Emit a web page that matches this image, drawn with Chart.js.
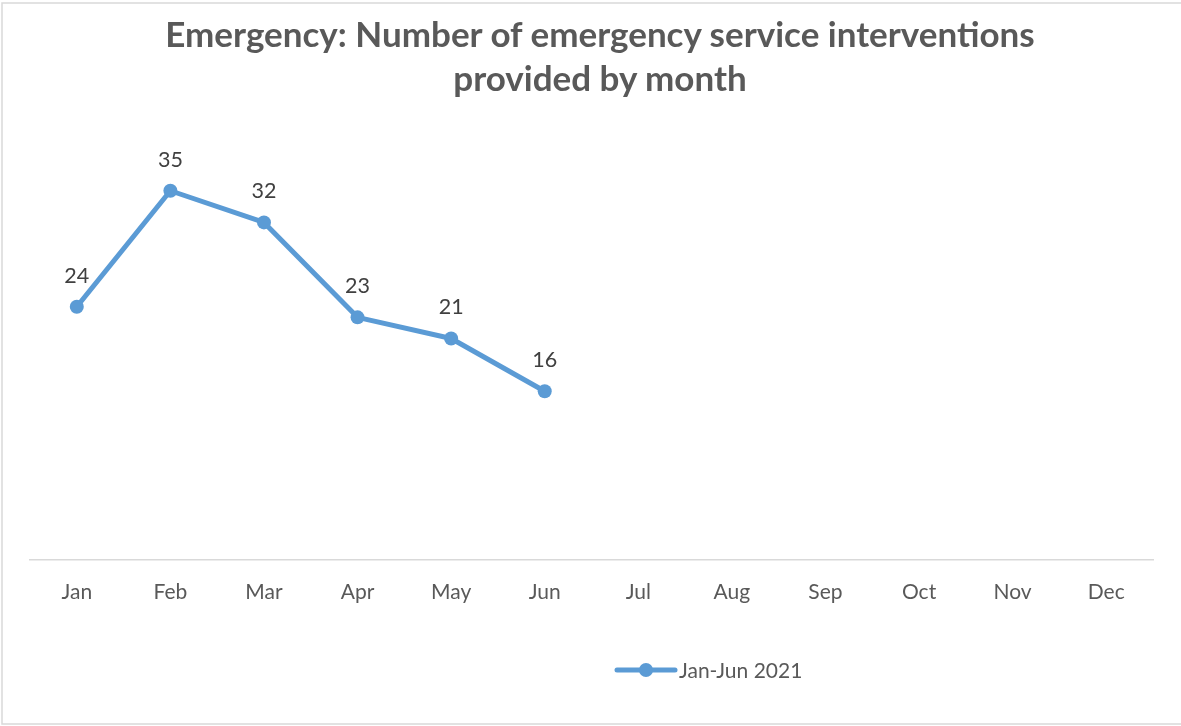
<!DOCTYPE html>
<html><head><meta charset="utf-8">
<script src="https://cdn.jsdelivr.net/npm/chart.js@4.4.0/dist/chart.umd.min.js"></script>
<style>
html,body{margin:0;padding:0;background:#fff;}
#wrap{position:relative;width:1181px;height:726px;overflow:hidden;}
#title{position:absolute;left:19px;width:1162px;top:11px;text-align:center;font-family:Lato,"Open Sans",sans-serif;font-weight:bold;font-size:35px;line-height:44px;color:#595959;white-space:nowrap;}
canvas{position:absolute;left:0;top:0;}
</style></head><body>
<div id="wrap"><canvas id="c" width="1181" height="726"></canvas><div id="title">Emergency: Number of emergency service interventions<br>provided by month</div></div>
<script>
const months = ['Jan','Feb','Mar','Apr','May','Jun','Jul','Aug','Sep','Oct','Nov','Dec'];
const values = [24, 35, 32, 23, 21, 16];
const seriesLabel = 'Jan-Jun 2021';
const lineColor = '#5B9BD5';
const FONT = 'Lato, "Open Sans", sans-serif';

const bgBorder = {
  id: 'bgBorder',
  beforeDraw(chart) {
    const ctx = chart.ctx;
    ctx.save();
    ctx.fillStyle = '#fff';
    ctx.fillRect(0, 0, chart.width, chart.height);
    ctx.strokeStyle = '#D9D9D9';
    ctx.lineWidth = 1.5;
    ctx.strokeRect(2, 3, chart.width + 10, chart.height - 5);
    ctx.restore();
  }
};

const dataLabels = {
  id: 'dataLabels',
  afterDatasetsDraw(chart) {
    const ctx = chart.ctx;
    const meta = chart.getDatasetMeta(0);
    const ds = chart.data.datasets[0];
    ctx.save();
    ctx.font = '21.5px ' + FONT;
    ctx.fillStyle = '#404040';
    ctx.textAlign = 'center';
    ctx.textBaseline = 'middle';
    meta.data.forEach((pt, i) => {
      ctx.fillText(String(ds.data[i]), pt.x, pt.y - 31);
    });
    ctx.restore();
  }
};

const customLegend = {
  id: 'customLegend',
  afterDraw(chart) {
    const ctx = chart.ctx;
    const ds = chart.data.datasets[0];
    const y = 670, x0 = 617, x1 = 675;
    ctx.save();
    ctx.strokeStyle = ds.borderColor;
    ctx.lineWidth = ds.borderWidth;
    ctx.lineCap = 'round';
    ctx.beginPath(); ctx.moveTo(x0, y); ctx.lineTo(x1, y); ctx.stroke();
    ctx.fillStyle = ds.pointBackgroundColor;
    ctx.beginPath(); ctx.arc((x0 + x1) / 2, y, ds.pointRadius, 0, Math.PI * 2); ctx.fill();
    ctx.font = '21px ' + FONT;
    ctx.fillStyle = '#595959';
    ctx.textAlign = 'left';
    ctx.textBaseline = 'middle';
    ctx.fillText(ds.label, 679, y + 1);
    ctx.restore();
  }
};

new Chart(document.getElementById('c'), {
  type: 'line',
  data: {
    labels: months,
    datasets: [{
      label: seriesLabel,
      data: values,
      borderColor: lineColor,
      backgroundColor: lineColor,
      pointBackgroundColor: lineColor,
      pointBorderWidth: 0,
      pointRadius: 7,
      borderWidth: 5,
      borderCapStyle: 'round',
      borderJoinStyle: 'round',
      tension: 0,
      fill: false
    }]
  },
  options: {
    responsive: false,
    animation: false,
    devicePixelRatio: 1,
    layout: { padding: { left: 30, right: 28, top: 138, bottom: 0 } },
    plugins: {
      legend: { display: false },
      title: { display: false },
      tooltip: { enabled: false }
    },
    scales: {
      x: {
        offset: true,
        grid: { display: false, drawTicks: false },
        border: { display: true, color: '#D9D9D9', width: 1.5 },
        ticks: { color: '#595959', font: { family: FONT, size: 21 }, padding: 20, maxRotation: 0, autoSkip: false },
        afterFit(scale) { scale.height = 166; }
      },
      y: {
        display: false,
        min: 0,
        max: 40
      }
    }
  },
  plugins: [bgBorder, dataLabels, customLegend]
});
</script>
</body></html>
